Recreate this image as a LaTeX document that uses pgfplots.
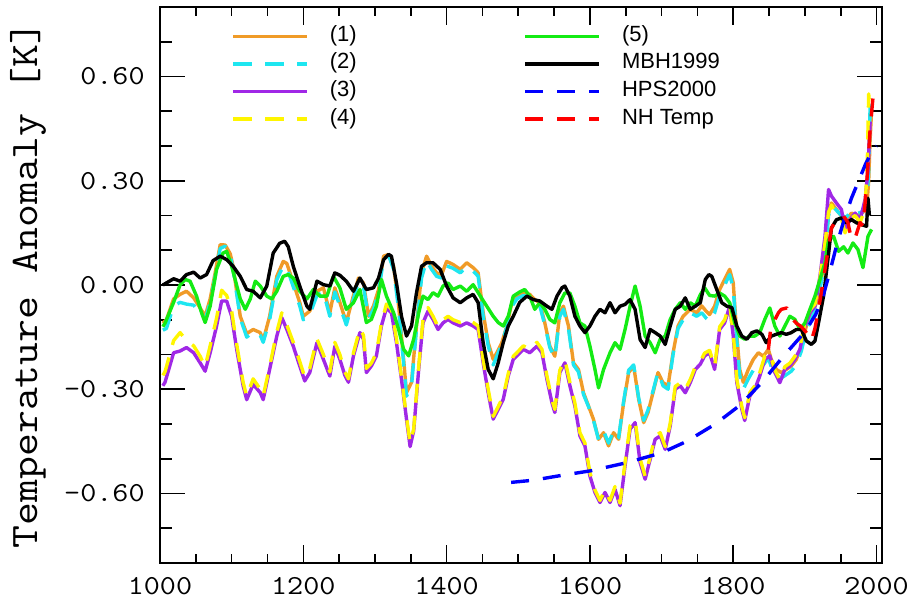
\documentclass[border=0pt]{standalone}
\usepackage{fontspec}
\setmainfont{Liberation Sans}
\setmonofont{Latin Modern Mono}[FakeStretch=1.14]
\usepackage{pgfplots}
\pgfplotsset{compat=1.18}

\definecolor{recA}{RGB}{240,155,40}
\definecolor{recB}{RGB}{30,230,240}
\definecolor{recC}{RGB}{160,40,230}
\definecolor{recD}{RGB}{255,245,0}
\definecolor{recE}{RGB}{20,235,20}

\begin{document}
\begin{tikzpicture}
\useasboundingbox (-80pt,-19.5pt) rectangle (376pt,281.5pt);
\begin{axis}[
    scale only axis,
    width=360.8pt, height=278pt,
    xmin=1000, xmax=2007,
    ymin=-0.8, ymax=0.8,
    axis line style={line width=1pt},
    tick style={line width=0.8pt, black},
    tick align=inside,
    xtick style={/pgfplots/major tick length=9pt, /pgfplots/minor tick length=4.5pt},
    ytick style={/pgfplots/major tick length=12.5pt, /pgfplots/minor tick length=6pt},
    xtick={1000,1200,1400,1600,1800,2000},
    xticklabels={1000,1200,1400,1600,1800,2000},
    minor xtick={1050,1100,1150,1250,1300,1350,1450,1500,1550,1650,1700,1750,1850,1900,1950},
    ytick={-0.6,-0.3,0,0.3,0.6},
    yticklabels={-0.60,-0.30,0.00,0.30,0.60},
    minor ytick={-0.7,-0.5,-0.4,-0.2,-0.1,0.1,0.2,0.4,0.5,0.7},
    xticklabel style={font=\ttfamily\fontsize{13.7}{14}\selectfont, inner sep=0pt, yshift=-6.8pt},
    yticklabel style={font=\ttfamily\fontsize{13.7}{14}\selectfont, inner sep=0pt, xshift=-7.5pt},
    ylabel={Temperature Anomaly [K]},
    ylabel style={at={(axis description cs:-0.183,0.5)}, anchor=center,
        font=\ttfamily\fontsize{19.5}{20}\selectfont},
    every axis plot/.append style={line width=1.7pt, line join=round},
    legend columns=4, transpose legend,
    legend image code/.code={\draw[#1] (0pt,0pt) -- (37pt,0pt);},
    legend style={draw=none, fill=none, inner sep=0pt,
        at={(axis description cs:0,1)}, anchor=north west,
        xshift=35.5pt, yshift=-9pt,
        font=\fontsize{11}{13}\selectfont,
        row sep=2.8pt, cells={anchor=west},
        nodes={inner sep=0pt, text height=8pt, text depth=3pt},
        /tikz/every odd column/.append style={column sep=10.5pt},
        /tikz/every even column/.append style={column sep=83.5pt}},
]
% (1)
\addplot[recA] coordinates {
(1004,-0.11)(1009,-0.10)(1019,-0.04)(1028,-0.027)(1037,-0.018)(1047,-0.037)(1056,-0.066)(1063,-0.09)(1070,-0.04)(1077,0.035)(1084,0.116)(1091,0.115)(1098,0.09)(1102,0.054)(1112,-0.09)(1121,-0.14)(1130,-0.128)(1140,-0.137)(1144,-0.16)(1153,-0.09)(1163,0.025)(1172,0.068)(1177,0.062)(1186,0.006)(1195,-0.05)(1200,-0.09)(1209,-0.075)(1219,-0.018)(1228,-0.008)(1237,-0.08)(1244,-0.008)(1251,-0.05)(1260,-0.108)(1270,-0.03)(1277,0.02)(1284,0.006)(1291,-0.09)(1298,-0.06)(1305,-0.013)(1312,0.083)(1319,0.088)(1326,0.054)(1333,-0.06)(1340,-0.214)(1344,-0.31)(1351,-0.28)(1358,-0.118)(1365,0.035)(1372,0.083)(1379,0.054)(1386,0.035)(1393,0.03)(1400,0.068)(1409,0.059)(1419,0.045)(1428,0.064)(1437,0.05)(1444,0.035)(1451,-0.08)(1458,-0.166)(1465,-0.214)(1470,-0.195)(1477,-0.166)(1484,-0.118)(1490,-0.06)(1498,-0.032)(1507,-0.023)(1516,-0.027)(1523,-0.042)(1530,-0.051)(1537,-0.109)(1544,-0.176)(1551,-0.205)(1558,-0.08)(1563,-0.061)(1570,-0.118)(1577,-0.224)(1584,-0.243)(1591,-0.31)(1598,-0.348)(1605,-0.387)(1612,-0.444)(1619,-0.425)(1626,-0.463)(1633,-0.425)(1640,-0.444)(1647,-0.339)(1654,-0.252)(1661,-0.233)(1668,-0.329)(1675,-0.396)(1681,-0.367)(1688,-0.31)(1695,-0.252)(1702,-0.281)(1709,-0.29)(1716,-0.195)(1723,-0.118)(1730,-0.09)(1740,-0.07)(1749,-0.08)(1756,-0.06)(1762,-0.075)(1767,-0.085)(1774,-0.061)(1781,-0.013)(1788,0.016)(1795,0.045)(1800,0.006)(1805,-0.147)(1809,-0.243)(1814,-0.28)(1821,-0.243)(1828,-0.214)(1835,-0.195)(1842,-0.205)(1849,-0.185)(1853,-0.214)(1860,-0.243)(1867,-0.252)(1874,-0.243)(1881,-0.233)(1888,-0.214)(1895,-0.176)(1902,-0.118)(1909,-0.09)(1916,-0.051)(1923,0.016)(1928,0.092)(1933,0.207)(1937,0.236)(1944,0.217)(1951,0.198)(1958,0.188)(1965,0.207)(1972,0.198)(1979,0.207)(1986,0.217)(1989,0.30)(1991,0.42)(1993,0.50)};
\addlegendentry{(1)}
% (2)
\addplot[recB, dash pattern=on 9.5pt off 6.5pt] coordinates {
(1004,-0.13)(1009,-0.125)(1019,-0.06)(1028,-0.05)(1037,-0.055)(1047,-0.058)(1056,-0.08)(1063,-0.10)(1070,-0.05)(1077,0.025)(1084,0.105)(1091,0.112)(1098,0.085)(1102,0.045)(1112,-0.095)(1121,-0.15)(1130,-0.135)(1140,-0.145)(1144,-0.165)(1153,-0.10)(1163,0.015)(1172,0.055)(1177,0.05)(1186,-0.005)(1195,-0.06)(1200,-0.10)(1209,-0.085)(1219,-0.03)(1228,-0.02)(1237,-0.09)(1244,-0.02)(1251,-0.06)(1260,-0.115)(1270,-0.04)(1277,0.01)(1284,-0.005)(1291,-0.095)(1298,-0.07)(1305,-0.02)(1312,0.075)(1319,0.085)(1326,0.045)(1333,-0.07)(1340,-0.225)(1344,-0.32)(1351,-0.29)(1358,-0.125)(1365,0.02)(1372,0.07)(1379,0.045)(1386,0.025)(1393,0.02)(1400,0.055)(1409,0.048)(1419,0.035)(1428,0.052)(1437,0.04)(1444,0.025)(1451,-0.09)(1458,-0.175)(1465,-0.23)(1470,-0.205)(1477,-0.17)(1484,-0.12)(1490,-0.065)(1498,-0.04)(1507,-0.03)(1516,-0.035)(1523,-0.05)(1530,-0.06)(1537,-0.115)(1544,-0.18)(1551,-0.21)(1558,-0.09)(1563,-0.07)(1570,-0.125)(1577,-0.23)(1584,-0.25)(1591,-0.315)(1598,-0.35)(1605,-0.39)(1612,-0.445)(1619,-0.42)(1626,-0.455)(1633,-0.42)(1640,-0.44)(1647,-0.335)(1654,-0.245)(1661,-0.23)(1668,-0.325)(1675,-0.39)(1681,-0.36)(1688,-0.305)(1695,-0.25)(1702,-0.29)(1709,-0.30)(1716,-0.2)(1723,-0.125)(1730,-0.1)(1740,-0.08)(1749,-0.09)(1756,-0.08)(1762,-0.095)(1767,-0.105)(1774,-0.08)(1781,-0.03)(1788,0.0)(1795,0.03)(1800,-0.01)(1805,-0.16)(1809,-0.26)(1814,-0.30)(1821,-0.27)(1828,-0.245)(1835,-0.225)(1842,-0.23)(1849,-0.21)(1853,-0.235)(1860,-0.26)(1867,-0.268)(1874,-0.258)(1881,-0.248)(1888,-0.23)(1895,-0.19)(1902,-0.13)(1909,-0.1)(1916,-0.058)(1923,0.01)(1928,0.085)(1933,0.2)(1937,0.23)(1944,0.215)(1951,0.2)(1958,0.195)(1965,0.215)(1972,0.205)(1979,0.21)(1986,0.22)(1989,0.33)(1991,0.52)};
\addlegendentry{(2)}
% (3)
\addplot[recC] coordinates {
(1004,-0.29)(1007,-0.28)(1019,-0.195)(1028,-0.19)(1037,-0.18)(1047,-0.195)(1056,-0.224)(1063,-0.248)(1070,-0.195)(1079,-0.118)(1086,-0.046)(1093,-0.046)(1100,-0.09)(1107,-0.185)(1116,-0.29)(1121,-0.33)(1130,-0.286)(1140,-0.31)(1144,-0.33)(1153,-0.243)(1163,-0.147)(1170,-0.094)(1177,-0.128)(1186,-0.176)(1195,-0.233)(1202,-0.276)(1209,-0.252)(1219,-0.166)(1228,-0.214)(1237,-0.262)(1244,-0.176)(1251,-0.214)(1258,-0.26)(1263,-0.28)(1270,-0.204)(1279,-0.137)(1284,-0.156)(1288,-0.252)(1295,-0.233)(1302,-0.204)(1309,-0.118)(1316,-0.066)(1323,-0.08)(1330,-0.166)(1337,-0.272)(1344,-0.386)(1349,-0.465)(1354,-0.42)(1361,-0.243)(1367,-0.109)(1374,-0.075)(1381,-0.099)(1388,-0.128)(1395,-0.109)(1402,-0.099)(1409,-0.109)(1419,-0.118)(1428,-0.109)(1437,-0.118)(1444,-0.128)(1451,-0.224)(1458,-0.31)(1465,-0.386)(1472,-0.358)(1479,-0.329)(1486,-0.262)(1493,-0.214)(1498,-0.204)(1507,-0.185)(1516,-0.195)(1526,-0.176)(1533,-0.195)(1540,-0.272)(1547,-0.339)(1551,-0.367)(1558,-0.252)(1565,-0.224)(1572,-0.29)(1579,-0.348)(1586,-0.434)(1593,-0.463)(1600,-0.55)(1607,-0.597)(1614,-0.626)(1621,-0.597)(1628,-0.626)(1635,-0.588)(1642,-0.635)(1649,-0.52)(1656,-0.415)(1663,-0.396)(1670,-0.511)(1677,-0.559)(1684,-0.502)(1691,-0.444)(1698,-0.434)(1705,-0.473)(1712,-0.406)(1719,-0.30)(1726,-0.29)(1733,-0.31)(1740,-0.281)(1747,-0.243)(1754,-0.228)(1760,-0.204)(1767,-0.195)(1774,-0.243)(1781,-0.128)(1788,-0.109)(1795,-0.061)(1800,-0.147)(1805,-0.281)(1812,-0.358)(1816,-0.39)(1823,-0.32)(1830,-0.30)(1837,-0.262)(1844,-0.214)(1851,-0.204)(1858,-0.252)(1865,-0.281)(1872,-0.243)(1879,-0.233)(1886,-0.214)(1893,-0.185)(1900,-0.118)(1907,-0.08)(1914,-0.061)(1921,0.025)(1928,0.14)(1933,0.275)(1937,0.256)(1944,0.236)(1951,0.217)(1956,0.16)(1963,0.188)(1970,0.207)(1977,0.188)(1984,0.246)(1988,0.33)(1991,0.47)};
\addlegendentry{(3)}
% (4)
\addplot[recD, dash pattern=on 9.5pt off 6.5pt] coordinates {
(1004,-0.26)(1007,-0.25)(1019,-0.16)(1028,-0.137)(1037,-0.16)(1047,-0.175)(1056,-0.205)(1063,-0.235)(1070,-0.175)(1079,-0.095)(1086,-0.015)(1093,-0.03)(1100,-0.075)(1107,-0.17)(1116,-0.28)(1121,-0.32)(1130,-0.27)(1140,-0.30)(1144,-0.32)(1153,-0.235)(1163,-0.135)(1170,-0.08)(1177,-0.115)(1186,-0.165)(1195,-0.22)(1202,-0.265)(1209,-0.24)(1219,-0.155)(1228,-0.2)(1237,-0.25)(1244,-0.165)(1251,-0.2)(1258,-0.25)(1263,-0.27)(1270,-0.195)(1279,-0.125)(1284,-0.145)(1288,-0.24)(1295,-0.225)(1302,-0.195)(1309,-0.11)(1316,-0.055)(1323,-0.07)(1330,-0.155)(1337,-0.265)(1344,-0.38)(1349,-0.455)(1354,-0.415)(1361,-0.235)(1367,-0.1)(1374,-0.065)(1381,-0.09)(1388,-0.12)(1395,-0.1)(1402,-0.09)(1409,-0.1)(1419,-0.108)(1428,-0.1)(1437,-0.108)(1444,-0.118)(1451,-0.215)(1458,-0.3)(1465,-0.378)(1472,-0.35)(1479,-0.32)(1486,-0.255)(1493,-0.205)(1498,-0.195)(1507,-0.175)(1516,-0.185)(1526,-0.165)(1533,-0.185)(1540,-0.262)(1547,-0.33)(1551,-0.358)(1558,-0.245)(1565,-0.215)(1572,-0.28)(1579,-0.34)(1586,-0.425)(1593,-0.455)(1600,-0.54)(1607,-0.59)(1614,-0.62)(1621,-0.59)(1628,-0.62)(1635,-0.58)(1642,-0.628)(1649,-0.51)(1656,-0.405)(1663,-0.388)(1670,-0.5)(1677,-0.55)(1684,-0.495)(1691,-0.435)(1698,-0.425)(1705,-0.465)(1712,-0.398)(1719,-0.292)(1726,-0.282)(1733,-0.3)(1740,-0.272)(1747,-0.235)(1754,-0.22)(1760,-0.196)(1767,-0.188)(1774,-0.235)(1781,-0.12)(1788,-0.1)(1795,-0.055)(1800,-0.14)(1805,-0.272)(1812,-0.35)(1816,-0.382)(1823,-0.31)(1830,-0.29)(1837,-0.252)(1844,-0.205)(1851,-0.195)(1858,-0.245)(1865,-0.272)(1872,-0.235)(1879,-0.225)(1886,-0.205)(1893,-0.178)(1900,-0.11)(1907,-0.072)(1914,-0.055)(1921,0.02)(1928,0.12)(1933,0.21)(1937,0.23)(1944,0.2)(1951,0.19)(1956,0.15)(1963,0.19)(1970,0.2)(1977,0.18)(1984,0.22)(1987,0.35)(1989,0.55)(1991,0.5)};
\addlegendentry{(4)}
% (5)
\addplot[recE] coordinates {
(1004,-0.12)(1007,-0.11)(1019,-0.05)(1028,0.0)(1035,0.016)(1042,0.011)(1051,-0.032)(1058,-0.08)(1063,-0.108)(1070,-0.061)(1079,0.045)(1088,0.092)(1093,0.097)(1100,0.054)(1112,-0.04)(1119,-0.07)(1126,-0.04)(1133,0.011)(1140,-0.003)(1149,-0.032)(1156,-0.04)(1163,-0.018)(1172,0.025)(1179,0.03)(1186,0.02)(1195,-0.018)(1205,-0.04)(1214,-0.013)(1223,-0.032)(1233,-0.032)(1242,0.025)(1251,-0.008)(1260,-0.07)(1270,-0.051)(1279,-0.013)(1288,-0.108)(1295,-0.099)(1302,-0.061)(1309,0.016)(1316,-0.032)(1326,-0.08)(1333,-0.128)(1340,-0.185)(1347,-0.204)(1354,-0.156)(1361,-0.08)(1367,-0.032)(1374,-0.042)(1381,-0.022)(1388,-0.032)(1395,-0.003)(1402,0.006)(1409,-0.013)(1419,-0.003)(1428,-0.018)(1437,0.001)(1447,-0.032)(1456,-0.061)(1465,-0.09)(1472,-0.108)(1479,-0.118)(1486,-0.09)(1493,-0.032)(1502,-0.02)(1509,-0.013)(1516,-0.032)(1523,-0.07)(1530,-0.051)(1537,-0.07)(1544,-0.099)(1551,-0.109)(1558,-0.051)(1565,-0.023)(1572,-0.023)(1579,-0.061)(1586,-0.109)(1593,-0.118)(1600,-0.176)(1607,-0.243)(1612,-0.296)(1619,-0.243)(1628,-0.195)(1635,-0.166)(1642,-0.185)(1649,-0.128)(1656,-0.061)(1663,-0.003)(1670,-0.061)(1677,-0.147)(1684,-0.166)(1691,-0.195)(1698,-0.156)(1705,-0.147)(1712,-0.099)(1719,-0.07)(1726,-0.051)(1733,-0.07)(1740,-0.051)(1747,-0.061)(1754,-0.028)(1760,-0.008)(1767,-0.03)(1774,-0.032)(1781,-0.023)(1788,-0.032)(1795,-0.051)(1802,-0.109)(1809,-0.147)(1816,-0.156)(1823,-0.147)(1830,-0.147)(1837,-0.137)(1844,-0.099)(1851,-0.066)(1858,-0.118)(1865,-0.147)(1872,-0.118)(1879,-0.09)(1886,-0.099)(1893,-0.128)(1900,-0.109)(1907,-0.07)(1914,-0.032)(1921,0.016)(1928,0.064)(1933,0.13)(1940,0.14)(1947,0.097)(1954,0.11)(1960,0.092)(1967,0.121)(1974,0.102)(1981,0.05)(1988,0.14)(1993,0.16)};
\addlegendentry{(5)}
% MBH1999
\addplot[black] coordinates {
(1004,0.0)(1009,0.006)(1019,0.018)(1028,0.011)(1037,0.03)(1047,0.037)(1056,0.02)(1065,0.03)(1074,0.07)(1084,0.083)(1093,0.073)(1102,0.054)(1112,0.025)(1121,-0.013)(1130,-0.018)(1140,-0.037)(1149,-0.003)(1158,0.092)(1167,0.12)(1174,0.126)(1179,0.11)(1186,0.054)(1195,-0.003)(1205,-0.061)(1209,-0.07)(1219,0.011)(1228,0.001)(1237,-0.003)(1244,0.035)(1251,0.028)(1260,0.011)(1270,-0.018)(1279,0.02)(1288,-0.013)(1298,-0.008)(1305,0.02)(1312,0.073)(1319,0.088)(1323,0.083)(1330,0.006)(1337,-0.09)(1344,-0.147)(1351,-0.118)(1358,-0.022)(1365,0.054)(1372,0.064)(1381,0.064)(1391,0.045)(1400,-0.003)(1409,-0.037)(1419,-0.051)(1428,-0.037)(1437,-0.027)(1444,-0.051)(1451,-0.166)(1458,-0.243)(1465,-0.27)(1472,-0.224)(1479,-0.166)(1486,-0.118)(1493,-0.09)(1502,-0.05)(1512,-0.032)(1521,-0.042)(1530,-0.046)(1540,-0.061)(1547,-0.07)(1554,-0.032)(1561,-0.008)(1565,-0.003)(1572,-0.032)(1579,-0.09)(1586,-0.118)(1593,-0.137)(1600,-0.118)(1607,-0.09)(1614,-0.07)(1621,-0.08)(1628,-0.051)(1635,-0.08)(1642,-0.061)(1649,-0.056)(1656,-0.042)(1663,-0.07)(1670,-0.157)(1677,-0.18)(1684,-0.128)(1691,-0.137)(1698,-0.147)(1705,-0.171)(1712,-0.118)(1719,-0.07)(1726,-0.061)(1733,-0.037)(1740,-0.07)(1747,-0.061)(1754,-0.051)(1761,0.016)(1766,0.03)(1770,0.025)(1777,-0.013)(1784,-0.051)(1791,-0.061)(1798,-0.065)(1805,-0.118)(1812,-0.147)(1819,-0.156)(1826,-0.137)(1833,-0.132)(1840,-0.142)(1846,-0.166)(1853,-0.147)(1860,-0.142)(1867,-0.137)(1874,-0.142)(1881,-0.137)(1888,-0.128)(1895,-0.128)(1902,-0.161)(1909,-0.171)(1914,-0.161)(1919,-0.109)(1926,-0.032)(1933,0.09)(1937,0.164)(1944,0.188)(1951,0.193)(1958,0.179)(1965,0.188)(1972,0.179)(1979,0.174)(1986,0.169)(1988,0.25)(1990,0.2)};
\addlegendentry{MBH1999}
% HPS2000
\addplot[blue, dash pattern=on 9pt off 7pt] coordinates {
(1490,-0.568)(1520,-0.562)(1560,-0.548)(1600,-0.535)(1650,-0.512)(1700,-0.483)(1735,-0.45)(1775,-0.40)(1810,-0.345)(1840,-0.28)(1870,-0.205)(1900,-0.135)(1915,-0.085)(1925,-0.035)(1935,0.04)(1945,0.12)(1955,0.19)(1965,0.25)(1975,0.30)(1985,0.35)(1995,0.39)(2000,0.40)};
\addlegendentry{HPS2000}
% NH Temp
\addplot[red, dash pattern=on 9pt off 7pt] coordinates {
(1849,-0.186)(1853,-0.11)(1858,-0.10)(1863,-0.08)(1867,-0.07)(1875,-0.066)(1881,-0.094)(1888,-0.11)(1895,-0.12)(1902,-0.137)(1909,-0.16)(1914,-0.125)(1919,-0.07)(1923,-0.02)(1928,0.045)(1933,0.11)(1937,0.164)(1944,0.188)(1949,0.188)(1954,0.198)(1960,0.18)(1965,0.13)(1970,0.135)(1977,0.18)(1981,0.17)(1984,0.236)(1986,0.285)(1991,0.45)(1995,0.54)(1998,0.55)};
\addlegendentry{NH Temp}
\end{axis}
\end{tikzpicture}
\end{document}
